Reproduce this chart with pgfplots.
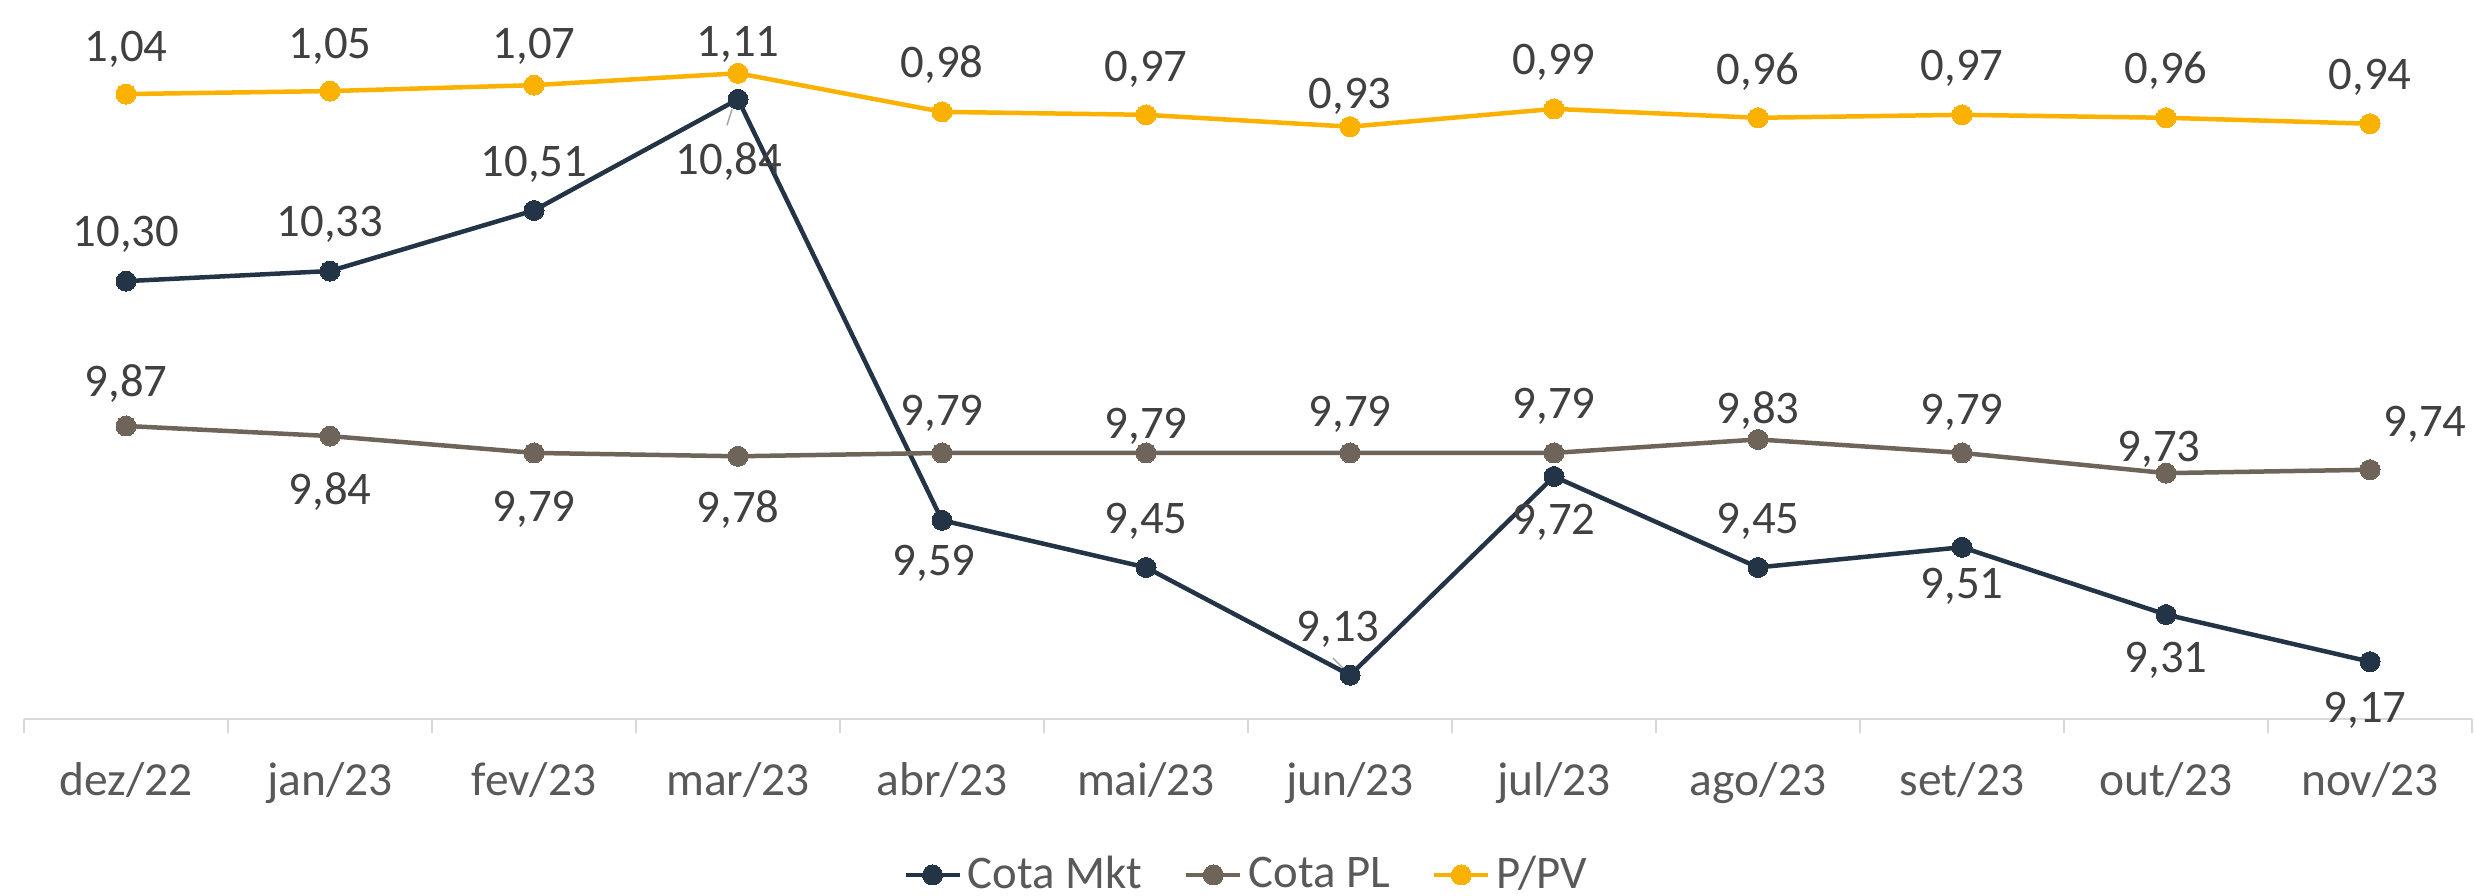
\documentclass[border=0pt]{standalone}
\usepackage{pgfplots}
\usepackage{pgfplotstable}
\pgfplotsset{compat=1.18}
\usepackage{fontspec}
\setmainfont{Carlito}
\definecolor{cmkt}{HTML}{243447}
\definecolor{cpl}{HTML}{6F645A}
\definecolor{cppv}{HTML}{FBB100}
\definecolor{clab}{HTML}{404040}
\definecolor{caxt}{HTML}{595959}
\definecolor{caxl}{HTML}{D9D9D9}
\definecolor{clead}{HTML}{A6A6A6}
\newcommand\lf{\fontsize{13.3pt}{16pt}\selectfont}
\newcommand\af{\fontsize{13.5pt}{16pt}\selectfont}

\pgfplotstableread{
x y dx dy lab
0 10.30 0 49 10,30
1 10.33 0 49 10,33
2 10.51 0 48 10,51
3 10.84 -9 -61 10,84
4 9.59 -8 -41 9,59
5 9.45 0 48 9,45
6 9.13 -12 48 9,13
7 9.72 0 -44 9,72
8 9.45 0 48 9,45
9 9.51 0 -37 9,51
10 9.31 0 -43 9,31
11 9.17 -5 -46 9,17
}\tmkt

\pgfplotstableread{
x y dx dy lab
0 9.87 0 44 9,87
1 9.84 0 -54 9,84
2 9.79 0 -54 9,79
3 9.78 0 -52 9,78
4 9.79 0 42 9,79
5 9.79 0 29 9,79
6 9.79 0 41 9,79
7 9.79 0 49 9,79
8 9.83 0 30 9,83
9 9.79 0 43 9,79
10 9.73 -7 26 9,73
11 9.74 55 48 9,74
}\tpl

\pgfplotstableread{
x y dx dy lab
0 1.04 0 47.5 1,04
1 1.05 0 47 1,05
2 1.07 0 41.5 1,07
3 1.11 0 31 1,11
4 0.98 0 49 0,98
5 0.97 0 48 0,97
6 0.93 0 32.5 0,93
7 0.99 0 49 0,99
8 0.96 0 48 0,96
9 0.97 0 48.5 0,97
10 0.96 0 49 0,96
11 0.94 0 49 0,94
}\tppv

\pgfplotsset{
  common/.style={
    scale only axis, width=244.8mm, height=67.36mm,
    xmin=-0.5, xmax=11.5, at={(0,0)}, anchor=south west, clip=false,
  },
  ser/.style={
    #1, line width=0.45mm, mark=*, mark size=1mm,
    mark options={solid, fill=#1, draw=#1, line width=0pt},
  },
  lbl/.style={
    visualization depends on={\thisrow{dx} \as \ldx},
    visualization depends on={\thisrow{dy} \as \ldy},
    point meta=explicit symbolic,
    nodes near coords,
    nodes near coords style={anchor=base, text=clab, font=\lf, inner sep=0pt,
      xshift=\ldx*0.1mm, yshift=(\ldy-14.5)*0.1mm},
  },
}

\begin{document}
\begin{tikzpicture}
\useasboundingbox (-2.4mm,-17.7mm) rectangle (245.0mm,71.9mm);
\begin{axis}[common,
  ymin=9, ymax=11,
  axis x line*=bottom, axis y line=none,
  x axis line style={-, draw=caxl, line width=0.25mm},
  xtick={0,...,11},
  xticklabels={dez/22,jan/23,fev/23,mar/23,abr/23,mai/23,jun/23,jul/23,ago/23,set/23,out/23,nov/23},
  major tick length=0pt,
  minor xtick={-0.5,0.5,...,11.5},
  minor tick length=1.4mm,
  tick align=outside, xtick pos=bottom,
  minor tick style={draw=caxl, line width=0.2mm},
  xticklabel style={anchor=base, yshift=-7.7mm, text=caxt, font=\af},
]
\addplot[ser=cmkt, lbl] table[x=x, y=y, meta=lab] {\tmkt};
\addplot[ser=cpl, lbl] table[x=x, y=y, meta=lab] {\tpl};
\draw[clead, line width=0.15mm] (axis cs:3,10.84) ++(-0.6mm,-1.0mm) -- ++(-0.5mm,-1.6mm);
\draw[clead, line width=0.15mm] (axis cs:6,9.13) ++(-0.7mm,0.7mm) -- ++(-1.0mm,1.0mm);
\end{axis}
\begin{axis}[common,
  ymin=-1.066, ymax=1.204,
  axis lines=none,
  legend style={at={(0.5,-0.2316)}, anchor=center, draw=none, fill=none,
    font=\lf, text=caxt, inner sep=0pt, row sep=0pt,
    nodes={inner xsep=0.6mm, inner ysep=0pt},
    /tikz/every even column/.append style={column sep=3.6mm}},
  legend columns=-1, legend cell align=left,
  legend image code/.code={\draw[mark repeat=2, mark phase=2, #1] plot coordinates {(0mm,0mm) (2.7mm,0mm) (5.4mm,0mm)};},
]
\addlegendimage{ser=cmkt}
\addlegendentry{Cota Mkt}
\addlegendimage{ser=cpl}
\addlegendentry{Cota PL}
\addplot[ser=cppv, lbl] table[x=x, y=y, meta=lab] {\tppv};
\addlegendentry{P/PV}
\end{axis}
\end{tikzpicture}
\end{document}
